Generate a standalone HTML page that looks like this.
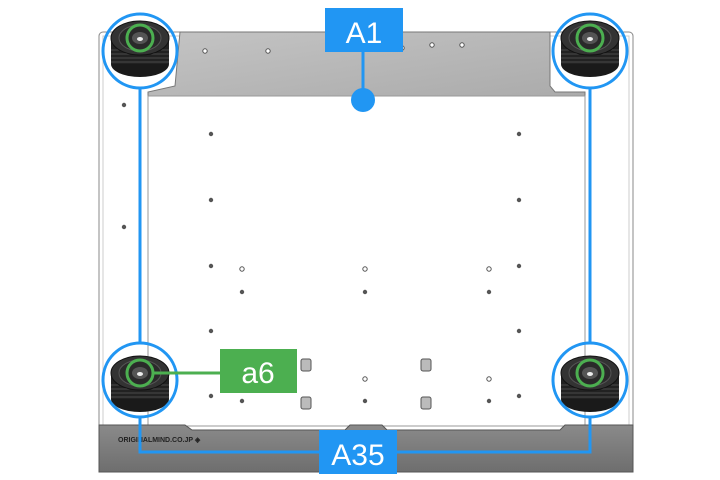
<!DOCTYPE html>
<html><head><meta charset="utf-8"><style>
html,body{margin:0;padding:0;background:#fff;}
svg{display:block;}
text{font-family:"Liberation Sans",sans-serif;}
</style></head><body>
<svg width="720" height="480" viewBox="0 0 720 480" xmlns="http://www.w3.org/2000/svg">
<defs>
<linearGradient id="gb" x1="0" y1="0" x2="1" y2="1"><stop offset="0" stop-color="#c4c4c4"/><stop offset="1" stop-color="#aaa"/></linearGradient>
<linearGradient id="bb" x1="0" y1="0" x2="0" y2="1"><stop offset="0" stop-color="#8a8a8a"/><stop offset="1" stop-color="#6e6e6e"/></linearGradient>
<g id="puck">
<ellipse cx="0" cy="20" rx="29" ry="13" fill="#1a1a1a"/>
<rect x="-29" y="-6" width="58" height="26" fill="#222"/>
<path d="M-29 6 h58 M-29 10 h58 M-29 14 h58 M-29 18 h58" stroke="#4a4a4a" stroke-width="1"/>
<ellipse cx="0" cy="-6" rx="29" ry="17" fill="#333" stroke="#111"/>
<ellipse cx="0" cy="-6" rx="21" ry="13" fill="#2a2a2a" stroke="#555"/>
<ellipse cx="0" cy="-6" rx="8" ry="6" fill="#555"/>
<ellipse cx="0" cy="-5" rx="3" ry="2" fill="#eee"/>
</g>
</defs>
<!-- plate -->
<rect x="99" y="32" width="534" height="440" rx="4" fill="#fff" stroke="#888" stroke-width="1"/>
<rect x="103" y="36" width="526" height="432" fill="none" stroke="#ccc"/>
<path d="M180 32 H550 V86 L555 92 H585 V100 H148 V92 L175 86 Z" fill="url(#gb)" stroke="#777"/>
<rect x="148" y="96" width="437" height="330" fill="#fff" stroke="#999"/>
<path d="M99 425 H185 L192 430 H345 L350 425 H382 L387 430 H560 L565 425 H633 V472 H99 Z" fill="url(#bb)" stroke="#555"/>
<text x="118" y="442" font-size="7" fill="#222" font-weight="bold">ORIGINALMIND.CO.JP ◈</text>
<!-- holes -->
<g fill="#555">
<circle cx="211" cy="134" r="2.2"/><circle cx="519" cy="134" r="2.2"/>
<circle cx="211" cy="200" r="2.2"/><circle cx="519" cy="200" r="2.2"/>
<circle cx="211" cy="266" r="2.2"/><circle cx="519" cy="266" r="2.2"/>
<circle cx="242" cy="292" r="2.2"/><circle cx="365" cy="292" r="2.2"/><circle cx="489" cy="292" r="2.2"/>
<circle cx="211" cy="331" r="2.2"/><circle cx="519" cy="331" r="2.2"/>
<circle cx="211" cy="396" r="2.2"/><circle cx="519" cy="396" r="2.2"/>
<circle cx="242" cy="401" r="2.2"/><circle cx="365" cy="401" r="2.2"/><circle cx="489" cy="401" r="2.2"/>
<circle cx="124" cy="105" r="2.2"/><circle cx="124" cy="227" r="2.2"/>
</g>
<g fill="#fff" stroke="#555">
<circle cx="205" cy="51" r="2.2"/><circle cx="268" cy="51" r="2.2"/><circle cx="402" cy="48" r="2.2"/><circle cx="432" cy="45" r="2.2"/><circle cx="462" cy="45" r="2.2"/>
<circle cx="242" cy="269" r="2.2"/><circle cx="365" cy="269" r="2.2"/><circle cx="489" cy="269" r="2.2"/>
<circle cx="365" cy="379" r="2.2"/><circle cx="489" cy="379" r="2.2"/>
</g>
<g fill="#bbb" stroke="#555">
<rect x="301" y="359" width="10" height="12" rx="2"/><rect x="421" y="359" width="10" height="12" rx="2"/>
<rect x="301" y="397" width="10" height="12" rx="2"/><rect x="421" y="397" width="10" height="12" rx="2"/>
</g>
<!-- pucks -->
<use href="#puck" x="140" y="44"/>
<use href="#puck" x="590" y="44"/>
<use href="#puck" x="140" y="379"/>
<use href="#puck" x="590" y="379"/>
<g fill="none" stroke="#4caf50" stroke-width="3">
<circle cx="140" cy="38" r="13"/><circle cx="590" cy="38" r="13"/>
<circle cx="140" cy="373" r="13"/><circle cx="590" cy="373" r="13"/>
</g>
<!-- blue callouts -->
<g fill="none" stroke="#2196f3" stroke-width="3">
<circle cx="140" cy="51" r="37"/><circle cx="590" cy="51" r="37"/>
<circle cx="140" cy="380" r="37"/><circle cx="590" cy="380" r="37"/>
<path d="M140 88 V343 M590 88 V343"/>
<path d="M140 417 V452 H330 M390 452 H590 V417"/>
<path d="M363 50 V100"/>
</g>
<circle cx="363" cy="100" r="12" fill="#2196f3"/>
<rect x="325" y="8" width="78" height="44" fill="#2196f3"/>
<text x="364" y="43" font-size="30" fill="#fff" text-anchor="middle">A1</text>
<rect x="319" y="430" width="78" height="44" fill="#2196f3"/>
<text x="358" y="465" font-size="30" fill="#fff" text-anchor="middle">A35</text>
<path d="M153 373 H222" stroke="#4caf50" stroke-width="3"/>
<rect x="220" y="349" width="77" height="44" fill="#4caf50"/>
<text x="258" y="383" font-size="30" fill="#fff" text-anchor="middle">a6</text>
</svg>
</body></html>
